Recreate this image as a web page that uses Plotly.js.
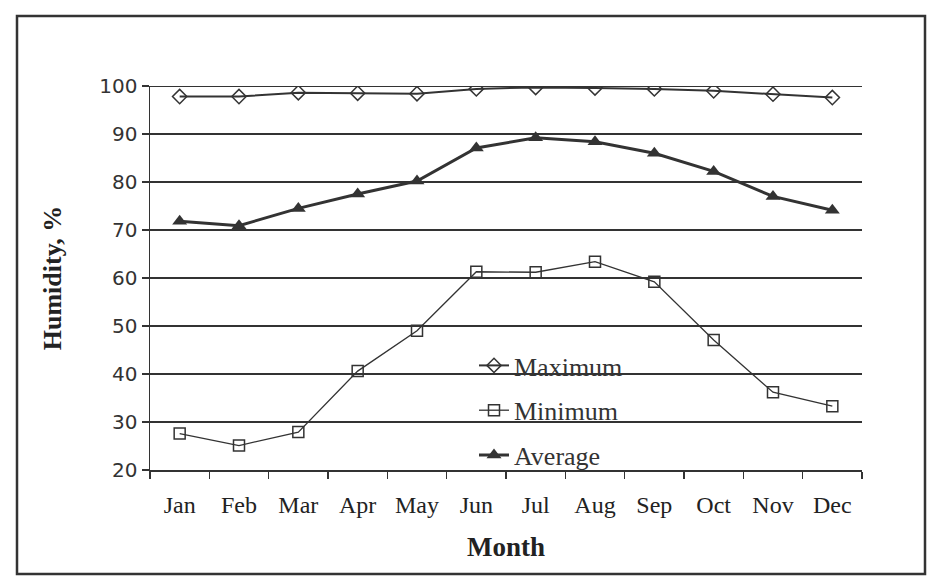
<!DOCTYPE html>
<html>
<head>
<meta charset="utf-8">
<script src="https://cdn.plot.ly/plotly-3.0.1.min.js"></script>
<style>html,body{margin:0;padding:0;background:#fff;}#chart{width:932px;height:584px;}</style>
</head>
<body>
<div id="chart"></div>
<script>
const months = ["Jan","Feb","Mar","Apr","May","Jun","Jul","Aug","Sep","Oct","Nov","Dec"];
const maximum = [97.8, 97.8, 98.6, 98.5, 98.4, 99.4, 99.7, 99.6, 99.4, 99.0, 98.3, 97.6];
const minimum = [27.6, 25.1, 27.9, 40.6, 49.0, 61.3, 61.2, 63.4, 59.2, 47.1, 36.2, 33.3];
const average = [71.8, 70.9, 74.5, 77.5, 80.2, 87.1, 89.2, 88.4, 86.0, 82.2, 77.0, 74.1];
const yTicks = [20, 30, 40, 50, 60, 70, 80, 90, 100];

const ink = "#333333";
const traces = [
  {x: months, y: maximum, name: "Maximum", mode: "lines+markers", legendgroup: "a",
   line: {color: ink, width: 2},
   marker: {symbol: "diamond-open", size: 11, color: ink, line: {width: 1.5, color: ink}}},
  {x: months, y: minimum, name: "Minimum", mode: "lines+markers", legendgroup: "b",
   line: {color: ink, width: 1.3},
   marker: {symbol: "square-open", size: 11, color: ink, line: {width: 1.5, color: ink}}},
  {x: months, y: average, name: "Average", mode: "lines+markers", legendgroup: "c",
   line: {color: ink, width: 3},
   marker: {symbol: "triangle-up", size: 13, color: ink}}
];

const L = 150, T = 86, W = 712, H = 384;
const px = v => (v - L) / W;
const py = v => (T + H - v) / H;

const layout = {
  width: 932, height: 584,
  margin: {l: L, r: 932 - L - W, t: T, b: 584 - T - H},
  paper_bgcolor: "#ffffff", plot_bgcolor: "#ffffff",
  showlegend: true,
  legend: {x: px(474), y: py(342), xanchor: "left", yanchor: "top",
           bgcolor: "rgba(0,0,0,0)", tracegroupgap: 8,
           font: {family: "Liberation Serif", size: 26, color: ink}},
  xaxis: {type: "category", range: [-0.5, 11.5], showgrid: false,
          showline: true, linecolor: ink, linewidth: 2,
          ticks: "outside", tickson: "boundaries", ticklen: 7, tickcolor: ink, tickwidth: 1.5,
          ticklabelstandoff: 12,
          tickfont: {family: "Liberation Serif", size: 24, color: "#222"},
          title: {text: "<b>Month</b>", standoff: 20,
                  font: {family: "Liberation Serif", size: 27, color: "#222"}}},
  yaxis: {range: [20, 100], tickvals: yTicks, showgrid: true, gridcolor: ink, gridwidth: 2,
          showline: true, linecolor: ink, linewidth: 1.5, zeroline: false,
          ticks: "outside", ticklen: 7, tickcolor: ink, tickwidth: 1.5,
          tickfont: {family: "DejaVu Sans", size: 20, color: "#333"},
          title: {text: "<b>Humidity, %</b>", standoff: 30,
                  font: {family: "Liberation Serif", size: 26, color: "#222"}}},
  shapes: [
    {type: "rect", xref: "paper", yref: "paper",
     x0: px(17), x1: px(925), y0: py(574), y1: py(16),
     line: {color: ink, width: 2.5}, fillcolor: "rgba(0,0,0,0)", layer: "below"},
    {type: "line", xref: "paper", yref: "y", x0: 0, x1: 1, y0: 100, y1: 100,
     line: {color: ink, width: 2}, layer: "below"}
  ]
};

Plotly.newPlot("chart", traces, layout, {displayModeBar: false, staticPlot: true});
</script>
</body>
</html>
